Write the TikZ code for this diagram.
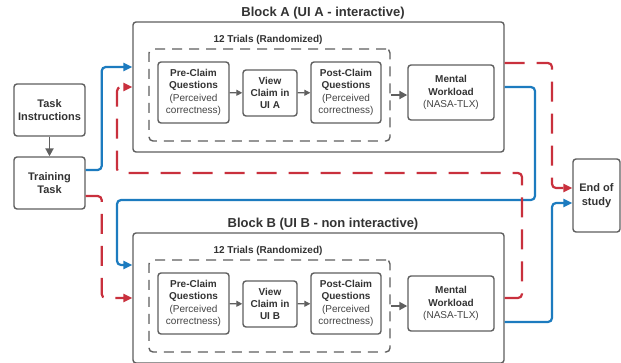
\documentclass[tikz,border=0pt]{standalone}
\usepackage{fontspec}
\setmainfont{Liberation Sans}
\usetikzlibrary{arrows.meta}
\definecolor{boxgray}{HTML}{5F5F5F}
\definecolor{txt}{HTML}{333333}
\definecolor{subtxt}{HTML}{444444}
\definecolor{lnblue}{HTML}{1C7BBF}
\definecolor{lnred}{HTML}{C9303D}
\begin{document}
\begin{tikzpicture}[x=1pt,y=-1pt,
  box/.style={draw=boxgray,line width=1.4pt,rounded corners=3pt,fill=white,text=txt,align=center,inner sep=0pt},
  bigtxt/.style={font=\bfseries\fontsize{11}{13.5}\selectfont},
  smtxt/.style={font=\fontsize{10}{12.3}\selectfont},
  blk/.style={draw=boxgray,line width=1.4pt,rounded corners=3pt,minimum width=371pt,minimum height=130pt,inner sep=0pt},
  trials/.style={draw=boxgray,line width=1.4pt,rounded corners=4pt,dash pattern=on 10pt off 7pt,minimum width=241pt,minimum height=92pt,inner sep=0pt},
  garrow/.style={draw=boxgray,line width=1.2pt,-{Triangle[length=6pt,width=6pt]}},
  gbigarrow/.style={draw=boxgray,line width=1.9pt,-{Triangle[length=8pt,width=8pt]}},
  bline/.style={draw=lnblue,line width=2.2pt,rounded corners=4pt,-{Triangle[length=9pt,width=8pt]}},
  rline/.style={draw=lnred,line width=2.2pt,rounded corners=4pt,dash pattern=on 20pt off 12pt,-{Triangle[length=9pt,width=8pt]}},
  ttl/.style={text=txt,font=\bfseries\fontsize{13}{15}\selectfont,inner sep=0pt},
  trttl/.style={text=txt,font=\bfseries\fontsize{10}{12}\selectfont,inner sep=0pt}
]
\clip (0,0) rectangle (621,362);
\fill[white] (0,0) rectangle (621,362);

% left boxes
\node[box,bigtxt,minimum width=71pt,minimum height=52pt] (task) at (49.5,110) {Task\\Instructions};
\node[box,bigtxt,minimum width=71pt,minimum height=52pt] (training) at (49.5,183) {Training\\Task};
\node[box,bigtxt,minimum width=47pt,minimum height=73pt] (end) at (596.5,195.5) {End of\\study};

% Block A
\node[ttl] (titleA) at (323,13) {Block A (UI A - interactive)};
\node[blk] (blockA) at (318.5,87) {};
\node[trttl] (trA) at (268,40) {12 Trials (Randomized)};
\node[trials] (trialsA) at (269.5,95) {};
\node[box,smtxt,minimum width=71pt,minimum height=61pt] (preA) at (193.5,92.5) {\textbf{Pre-Claim}\\\textbf{Questions}\\\textcolor{subtxt}{(Perceived}\\\textcolor{subtxt}{correctness)}};
\node[box,smtxt,minimum width=54pt,minimum height=46pt] (viewA) at (270,93) {\textbf{View}\\\textbf{Claim in}\\\textbf{UI A}};
\node[box,smtxt,minimum width=70pt,minimum height=61pt] (postA) at (346,92.5) {\textbf{Post-Claim}\\\textbf{Questions}\\\textcolor{subtxt}{(Perceived}\\\textcolor{subtxt}{correctness)}};
\node[box,smtxt,minimum width=86pt,minimum height=55pt] (mentalA) at (451,92.5) {\textbf{Mental}\\\textbf{Workload}\\\textcolor{subtxt}{(NASA-TLX)}};

% Block B
\node[ttl] (titleB) at (323,224) {Block B (UI B - non interactive)};
\node[blk] (blockB) at (318.5,298) {};
\node[trttl] (trB) at (268,251) {12 Trials (Randomized)};
\node[trials] (trialsB) at (269.5,306) {};
\node[box,smtxt,minimum width=71pt,minimum height=61pt] (preB) at (193.5,303.5) {\textbf{Pre-Claim}\\\textbf{Questions}\\\textcolor{subtxt}{(Perceived}\\\textcolor{subtxt}{correctness)}};
\node[box,smtxt,minimum width=54pt,minimum height=46pt] (viewB) at (270,304) {\textbf{View}\\\textbf{Claim in}\\\textbf{UI B}};
\node[box,smtxt,minimum width=70pt,minimum height=61pt] (postB) at (346,303.5) {\textbf{Post-Claim}\\\textbf{Questions}\\\textcolor{subtxt}{(Perceived}\\\textcolor{subtxt}{correctness)}};
\node[box,smtxt,minimum width=86pt,minimum height=55pt] (mentalB) at (451,303.5) {\textbf{Mental}\\\textbf{Workload}\\\textcolor{subtxt}{(NASA-TLX)}};

% gray arrows
\draw[gbigarrow] (task) -- (training);
\draw[garrow] (preA) -- (viewA);
\draw[garrow] (viewA) -- (postA);
\draw[gbigarrow] (trialsA.east) -- (trialsA.east -| mentalA.west);
\draw[garrow] (preB) -- (viewB);
\draw[garrow] (viewB) -- (postB);
\draw[gbigarrow] (trialsB.east) -- (trialsB.east -| mentalB.west);

% route coordinates
\coordinate (b1) at (535,200);
\coordinate (b2) at (117,200);
\coordinate (r1) at (522,173);
\coordinate (r2) at (117,173);
\coordinate (r3) at (552,188);
\coordinate (b3) at (552,203);

% colored connectors
\draw[bline] ([yshift=13pt]training.east) -- ++(16pt,0) |- ([yshift=20pt]blockA.west);
\draw[rline] ([yshift=-13pt]training.east) -- ++(16pt,0) |- (blockB.west);
\draw[bline] (blockA.east) -| (b1) -- (b2) |- ([yshift=33pt]blockB.west);
\draw[rline] (blockB.east) -| (r1) -- (r2) |- (blockA.west);
\draw[rline] ([yshift=24pt]blockA.east) -| (r3) -- (end.west |- r3);
\draw[bline] ([yshift=-24pt]blockB.east) -| (b3) -- (end.west |- b3);
\end{tikzpicture}
\end{document}
